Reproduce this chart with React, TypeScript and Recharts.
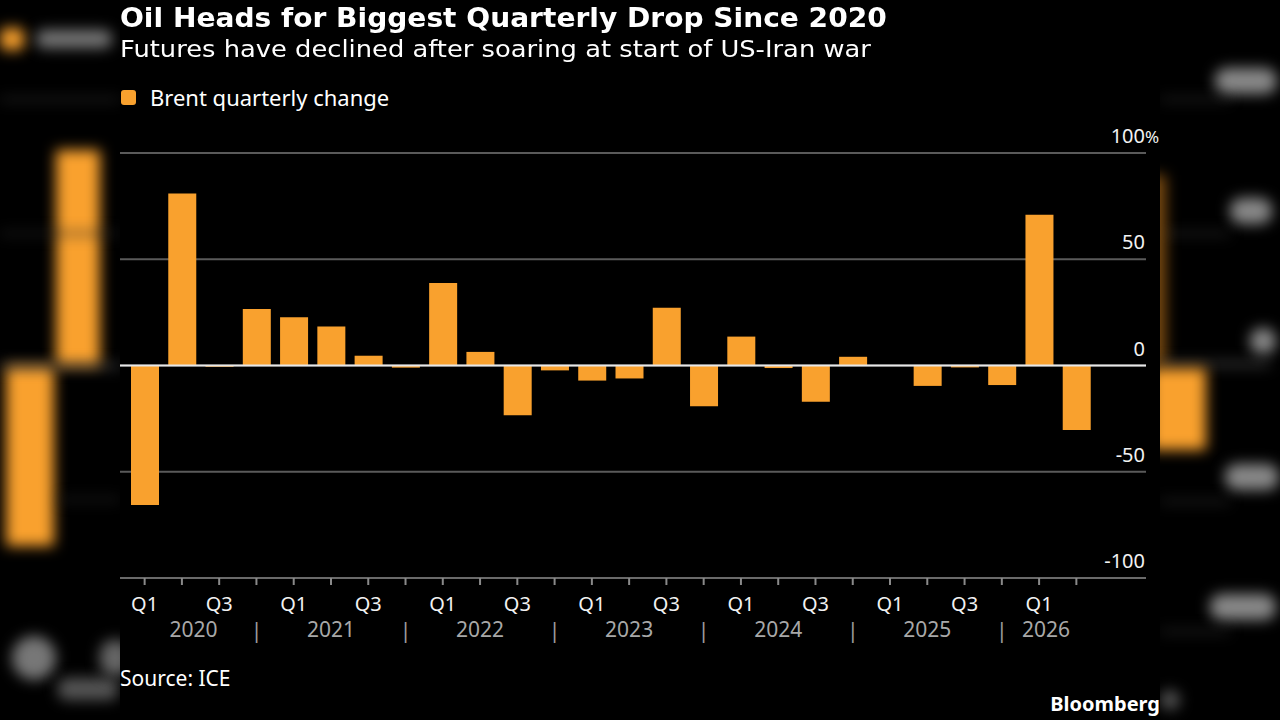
import React from "react";
import { BarChart, Bar, XAxis, YAxis, CartesianGrid, ReferenceLine } from "recharts";

const years = [2020, 2020, 2020, 2020, 2021, 2021, 2021, 2021, 2022, 2022, 2022, 2022, 2023, 2023, 2023, 2023, 2024, 2024, 2024, 2024, 2025, 2025, 2025, 2025, 2026, 2026];
const quarters = [1, 2, 3, 4, 1, 2, 3, 4, 1, 2, 3, 4, 1, 2, 3, 4, 1, 2, 3, 4, 1, 2, 3, 4, 1, 2];
const brentChange = [-65.6, 81.0, -0.6, 26.6, 22.7, 18.3, 4.6, -1.0, 38.8, 6.4, -23.4, -2.3, -7.1, -6.1, 27.2, -19.2, 13.6, -1.2, -17.0, 4.1, 0.1, -9.6, -0.9, -9.2, 71.0, -30.3];
const yTicks = [-100, -50, 0, 50, 100];

const data = brentChange.map((v, i) => ({
  key: `${years[i]} Q${quarters[i]}`,
  year: years[i],
  q: quarters[i],
  value: v,
}));

const W = 1280;
const H = 720;
const PLOT_LEFT = 120;
const PLOT_RIGHT = 1146;
const PLOT_TOP = 153;
const PLOT_BOTTOM = 578;
const X_AXIS_H = 70;
const Y_AXIS_W = 14;
const PAD_L = 6;
const PAD_R = 51;
const STEP = (PLOT_RIGHT - PLOT_LEFT - PAD_L - PAD_R) / data.length;
const BAR_W = 28;

const FONT = "'Noto Sans', 'DejaVu Sans', sans-serif";
const TITLE_FONT = "'DejaVu Sans', 'Noto Sans', sans-serif";
const ORANGE = "#f9a12e";

const XTick = (props: any) => {
  const { x, payload, index } = props;
  const idx = typeof payload?.index === "number" ? payload.index : index;
  const d = data[idx] || data.find((r) => r.key === payload?.value);
  if (!d) return null;
  const items: React.ReactNode[] = [];
  if (d.q === 1 || d.q === 3) {
    items.push(
      <text key="q" x={x} y={PLOT_BOTTOM + 33} textAnchor="middle" fill="#f2f2f2" fontSize={20} fontFamily={FONT}>
        {`Q${d.q}`}
      </text>
    );
  }
  if (d.q === 4) {
    items.push(
      <text key="sep" x={x} y={PLOT_BOTTOM + 60} textAnchor="middle" fill="#9a9a9a" fontSize={22} fontFamily={FONT}>
        |
      </text>
    );
  }
  if (d.q === 2) {
    const isFirst = d.year === years[0];
    const isLast = d.year === years[years.length - 1];
    let cx = x;
    if (isFirst) cx = (x - STEP - BAR_W / 2 + x + 2 * STEP) / 2;
    else if (isLast) cx = (x - 2 * STEP + x + BAR_W / 2) / 2;
    items.push(
      <text key="y" x={cx} y={PLOT_BOTTOM + 59} textAnchor="middle" fill="#a8a8a8" fontSize={21} fontFamily={FONT}>
        {String(d.year)}
      </text>
    );
  }
  return <g>{items}</g>;
};

const YTick = (props: any) => {
  const { y, payload } = props;
  const v = payload.value;
  return (
    <g>
      <text x={PLOT_RIGHT - 1} y={y - 10} textAnchor="end" fill="#f2f2f2" fontSize={20} fontFamily={FONT}>
        {String(v)}
      </text>
      {v === yTicks[yTicks.length - 1] && (
        <text x={PLOT_RIGHT - 1} y={y - 10} textAnchor="start" fill="#f2f2f2" fontSize={17} fontFamily={FONT}>
          %
        </text>
      )}
    </g>
  );
};

const blob = (style: React.CSSProperties, key: string) => (
  <div key={key} style={{ position: "absolute", filter: "blur(7px)", ...style }} />
);

export default function App() {
  return (
    <div style={{ position: "absolute", left: 0, top: 0, width: W, height: H, background: "#000", overflow: "hidden", fontFamily: FONT }}>
      {/* blurred side backdrop */}
      <div style={{ position: "absolute", left: 0, top: 0, width: 120, height: H, overflow: "hidden" }}>
        {blob({ left: 0, top: 28, width: 24, height: 22, background: ORANGE, borderRadius: 6 }, "a")}
        {blob({ left: 36, top: 30, width: 76, height: 18, background: "#777", borderRadius: 8 }, "b")}
        {blob({ left: 0, top: 98, width: 120, height: 3, background: "#333" }, "c")}
        {blob({ left: 56, top: 150, width: 44, height: 216, background: ORANGE }, "d")}
        {blob({ left: 6, top: 366, width: 48, height: 180, background: ORANGE }, "e")}
        {blob({ left: 0, top: 364, width: 120, height: 4, background: "#555" }, "f")}
        {blob({ left: 0, top: 232, width: 120, height: 3, background: "#2a2a2a" }, "g")}
        {blob({ left: 60, top: 498, width: 60, height: 3, background: "#2a2a2a" }, "h")}
        {blob({ left: 12, top: 636, width: 44, height: 44, background: "#777", borderRadius: 22 }, "i")}
        {blob({ left: 58, top: 678, width: 60, height: 22, background: "#555", borderRadius: 8 }, "j")}
        {blob({ left: 100, top: 640, width: 30, height: 36, background: "#666", borderRadius: 14 }, "k")}
      </div>
      <div style={{ position: "absolute", left: 1160, top: 0, width: 120, height: H, overflow: "hidden" }}>
        {blob({ left: 55, top: 68, width: 62, height: 26, background: "#888", borderRadius: 12 }, "a")}
        {blob({ left: 0, top: 98, width: 70, height: 3, background: "#333" }, "b")}
        {blob({ left: 70, top: 198, width: 42, height: 26, background: "#888", borderRadius: 12 }, "c")}
        {blob({ left: 0, top: 232, width: 70, height: 3, background: "#333" }, "d")}
        {blob({ left: -20, top: 175, width: 26, height: 190, background: "#7a4a10" }, "e")}
        {blob({ left: 90, top: 328, width: 26, height: 26, background: "#888", borderRadius: 12 }, "f")}
        {blob({ left: 0, top: 362, width: 110, height: 4, background: "#555" }, "g")}
        {blob({ left: -10, top: 368, width: 56, height: 82, background: ORANGE }, "h")}
        {blob({ left: 65, top: 464, width: 54, height: 26, background: "#888", borderRadius: 12 }, "i")}
        {blob({ left: 0, top: 500, width: 70, height: 3, background: "#333" }, "j")}
        {blob({ left: 50, top: 594, width: 66, height: 26, background: "#888", borderRadius: 12 }, "k")}
        {blob({ left: 0, top: 630, width: 70, height: 3, background: "#333" }, "l")}
        {blob({ left: 0, top: 690, width: 20, height: 20, background: "#555", borderRadius: 10 }, "m")}
      </div>

      {/* titles */}
      <div style={{ position: "absolute", left: 120, top: 0, color: "#fff", fontSize: 27, fontWeight: 700, fontFamily: TITLE_FONT, whiteSpace: "nowrap", lineHeight: "36px", transform: "scaleX(1.04)", transformOrigin: "left top" }}>
        Oil Heads for Biggest Quarterly Drop Since 2020
      </div>
      <div style={{ position: "absolute", left: 120, top: 32, color: "#fff", fontSize: 23, fontFamily: TITLE_FONT, whiteSpace: "nowrap", lineHeight: "34px", transform: "scaleX(1.12)", transformOrigin: "left top" }}>
        Futures have declined after soaring at start of US-Iran war
      </div>
      <div style={{ position: "absolute", left: 121, top: 90, width: 15, height: 15, background: ORANGE, borderRadius: 3 }} />
      <div style={{ position: "absolute", left: 150, top: 82, color: "#fff", fontSize: 22, whiteSpace: "nowrap", lineHeight: "30px" }}>
        Brent quarterly change
      </div>

      <div style={{ position: "absolute", left: 0, top: 0 }}>
        <BarChart
          width={W}
          height={H}
          data={data}
          margin={{ top: PLOT_TOP, bottom: H - PLOT_BOTTOM - X_AXIS_H, left: PLOT_LEFT, right: W - PLOT_RIGHT - Y_AXIS_W }}
          barSize={BAR_W}
        >
          <CartesianGrid vertical={false} stroke="#5a5a5a" strokeWidth={2} />
          <XAxis
            dataKey="key"
            height={X_AXIS_H}
            interval={0}
            padding={{ left: PAD_L, right: PAD_R }}
            axisLine={{ stroke: "#6a6a6a", strokeWidth: 2 }}
            tickLine={{ stroke: "#8a8a8a", strokeWidth: 2 }}
            tickSize={7}
            tick={XTick}
          />
          <YAxis
            orientation="right"
            width={Y_AXIS_W}
            domain={[-100, 100]}
            ticks={yTicks}
            axisLine={false}
            tickLine={false}
            tickSize={0}
            tickMargin={0}
            tick={YTick}
            interval={0}
          />
          <Bar dataKey="value" fill={ORANGE} isAnimationActive={false} />
          <ReferenceLine y={0} stroke="#e8e8e8" strokeWidth={2} />
        </BarChart>
      </div>

      <div style={{ position: "absolute", left: 120, top: 663, color: "#fff", fontSize: 21, whiteSpace: "nowrap", lineHeight: "30px" }}>
        Source: ICE
      </div>
      <div style={{ position: "absolute", right: 1280 - 1160, top: 689, color: "#fff", fontSize: 20, fontWeight: 700, whiteSpace: "nowrap", lineHeight: "30px" }}>
        Bloomberg
      </div>
    </div>
  );
}
